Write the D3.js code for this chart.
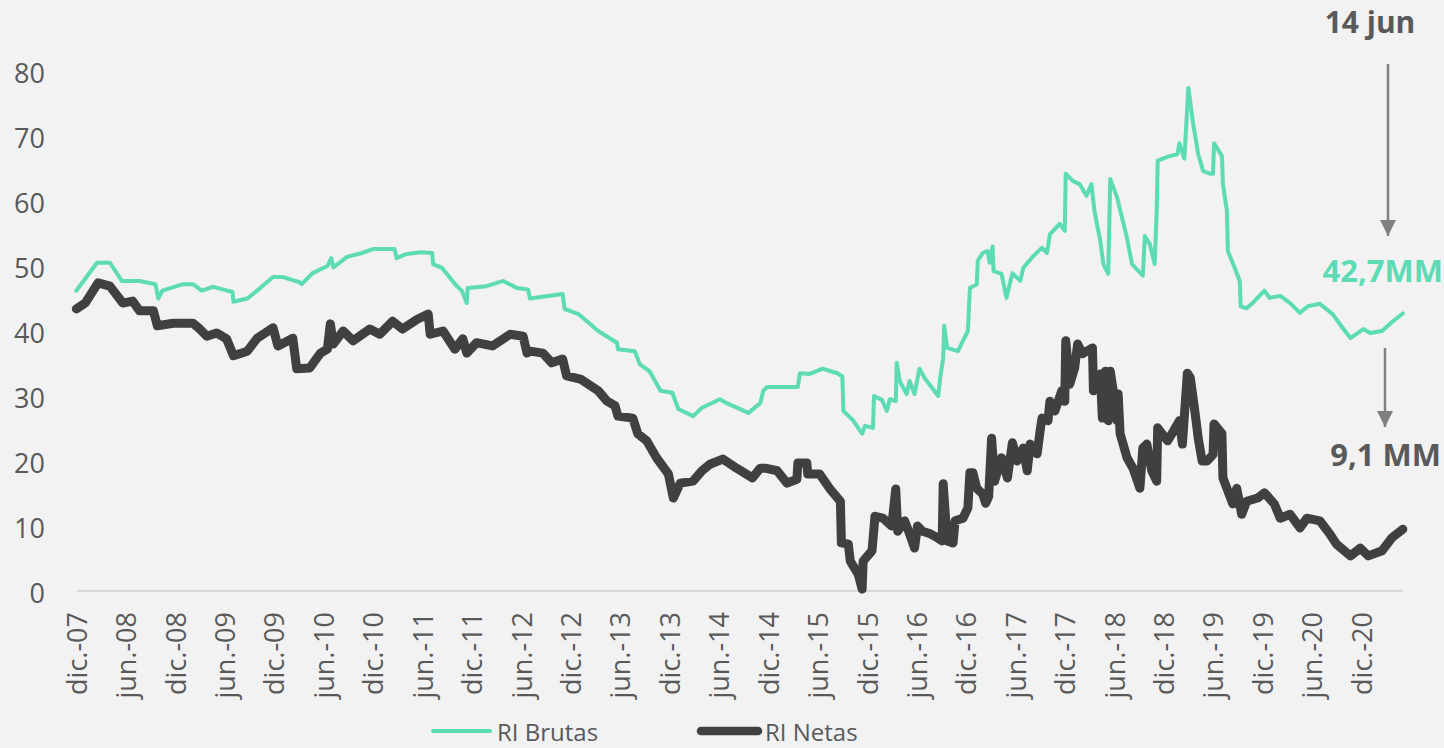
<!DOCTYPE html>
<html>
<head>
<meta charset="utf-8">
<script src="https://cdn.jsdelivr.net/npm/d3@7"></script>
<style>
  body { margin: 0; background: #f2f2f2; }
  svg { display: block; font-family: "Open Sans", sans-serif; }
</style>
</head>
<body>
<div id="chart"></div>
<script>
// x values are decimal years
var tickLabels = ["dic.-07", "jun.-08", "dic.-08", "jun.-09", "dic.-09", "jun.-10", "dic.-10",
    "jun.-11", "dic.-11", "jun.-12", "dic.-12", "jun.-13", "dic.-13", "jun.-14", "dic.-14",
    "jun.-15", "dic.-15", "jun.-16", "dic.-16", "jun.-17", "dic.-17", "jun.-18", "dic.-18",
    "jun.-19", "dic.-19", "jun.-20", "dic.-20"];
var yTicks = [0, 10, 20, 30, 40, 50, 60, 70, 80];

var brutasT = [2007.91, 2008.12, 2008.25, 2008.37, 2008.55, 2008.71, 2008.74, 2008.78, 2008.99, 2009.09,
    2009.18, 2009.29, 2009.39, 2009.49, 2009.50, 2009.64, 2009.77, 2009.90, 2010.00, 2010.17,
    2010.19, 2010.30, 2010.45, 2010.49, 2010.51, 2010.65, 2010.80, 2010.91, 2011.13, 2011.15,
    2011.24, 2011.39, 2011.51, 2011.52, 2011.61, 2011.76, 2011.81, 2011.86, 2011.87, 2012.06,
    2012.23, 2012.37, 2012.48, 2012.50, 2012.83, 2012.85, 2012.99, 2013.19, 2013.38, 2013.39,
    2013.56, 2013.61, 2013.71, 2013.82, 2013.94, 2014.00, 2014.15, 2014.24, 2014.42, 2014.49,
    2014.71, 2014.83, 2014.86, 2014.90, 2015.21, 2015.23, 2015.33, 2015.46, 2015.61, 2015.66,
    2015.67, 2015.77, 2015.86, 2015.89, 2015.97, 2015.98, 2016.06, 2016.11, 2016.14, 2016.20,
    2016.21, 2016.24, 2016.31, 2016.34, 2016.39, 2016.44, 2016.49, 2016.63, 2016.65, 2016.68,
    2016.69, 2016.72, 2016.83, 2016.88, 2016.93, 2016.95, 2017.02, 2017.03, 2017.08, 2017.13,
    2017.15, 2017.18, 2017.19, 2017.27, 2017.32, 2017.38, 2017.46, 2017.49, 2017.59, 2017.68,
    2017.73, 2017.76, 2017.86, 2017.91, 2017.92, 2017.99, 2018.06, 2018.13, 2018.18, 2018.21,
    2018.27, 2018.30, 2018.35, 2018.37, 2018.44, 2018.49, 2018.54, 2018.59, 2018.70, 2018.72,
    2018.77, 2018.82, 2018.84, 2018.85, 2018.97, 2019.05, 2019.07, 2019.12, 2019.16, 2019.21,
    2019.26, 2019.31, 2019.38, 2019.41, 2019.42, 2019.50, 2019.51, 2019.55, 2019.56, 2019.63,
    2019.68, 2019.69, 2019.75, 2019.81, 2019.93, 2019.98, 2020.09, 2020.19, 2020.29, 2020.37,
    2020.49, 2020.62, 2020.72, 2020.80, 2020.93, 2021.00, 2021.12, 2021.23, 2021.33];
var brutasV = [46.2, 50.5, 50.5, 47.7, 47.7, 47.2, 45.0, 46.2, 47.2, 47.2,
    46.2, 46.8, 46.4, 46.0, 44.5, 45.0, 46.6, 48.3, 48.3, 47.5,
    47.2, 48.9, 50.0, 51.2, 49.8, 51.4, 52.0, 52.6, 52.6, 51.2,
    51.8, 52.1, 52.0, 50.3, 49.7, 46.9, 46.2, 44.3, 46.6, 46.9,
    47.7, 46.6, 46.4, 45.0, 45.7, 43.4, 42.6, 40.0, 38.2, 37.2,
    36.9, 34.9, 33.8, 30.8, 30.5, 28.0, 26.9, 28.2, 29.5, 28.9,
    27.4, 28.9, 30.8, 31.4, 31.4, 33.5, 33.4, 34.2, 33.5, 33.0,
    27.7, 26.2, 24.2, 25.4, 25.1, 30.0, 29.4, 27.7, 29.5, 29.2,
    35.1, 32.3, 30.3, 32.3, 30.3, 34.2, 32.8, 30.0, 32.8, 35.8,
    40.8, 37.4, 36.9, 38.5, 40.0, 46.6, 47.2, 50.8, 52.0, 52.3,
    50.5, 53.0, 49.2, 48.8, 45.1, 48.9, 47.7, 49.7, 51.5, 52.8,
    52.0, 54.9, 56.5, 55.4, 64.2, 63.1, 62.6, 60.8, 62.6, 58.5,
    53.8, 50.3, 48.8, 63.4, 60.5, 57.4, 54.3, 50.3, 48.5, 54.6,
    53.4, 50.3, 58.5, 66.2, 66.9, 67.2, 68.9, 66.5, 77.4, 71.8,
    67.2, 64.6, 64.2, 64.2, 68.9, 66.9, 62.6, 58.5, 52.3, 49.7,
    47.7, 43.8, 43.5, 44.3, 46.2, 45.1, 45.4, 44.3, 42.8, 43.8,
    44.2, 42.6, 40.5, 38.9, 40.3, 39.7, 40.0, 41.5, 42.7];

var netasT = [2007.91, 2008.00, 2008.13, 2008.25, 2008.38, 2008.48, 2008.55, 2008.69, 2008.73, 2008.89,
    2009.09, 2009.16, 2009.23, 2009.33, 2009.43, 2009.50, 2009.64, 2009.74, 2009.90, 2009.95,
    2010.10, 2010.14, 2010.27, 2010.38, 2010.45, 2010.48, 2010.51, 2010.61, 2010.71, 2010.88,
    2010.98, 2011.11, 2011.21, 2011.36, 2011.47, 2011.49, 2011.62, 2011.74, 2011.82, 2011.86,
    2011.96, 2012.12, 2012.30, 2012.43, 2012.47, 2012.50, 2012.63, 2012.72, 2012.83, 2012.87,
    2013.01, 2013.19, 2013.28, 2013.36, 2013.39, 2013.54, 2013.59, 2013.68, 2013.78, 2013.90,
    2013.95, 2014.02, 2014.15, 2014.24, 2014.32, 2014.45, 2014.59, 2014.75, 2014.83, 2014.88,
    2015.00, 2015.10, 2015.20, 2015.21, 2015.30, 2015.31, 2015.43, 2015.53, 2015.64, 2015.65,
    2015.72, 2015.74, 2015.82, 2015.86, 2015.87, 2015.96, 2015.99, 2016.07, 2016.16, 2016.20,
    2016.22, 2016.29, 2016.34, 2016.39, 2016.42, 2016.47, 2016.55, 2016.62, 2016.67, 2016.68,
    2016.72, 2016.78, 2016.80, 2016.88, 2016.93, 2016.95, 2016.98, 2017.02, 2017.08, 2017.11,
    2017.14, 2017.17, 2017.20, 2017.27, 2017.33, 2017.38, 2017.43, 2017.49, 2017.53, 2017.56,
    2017.63, 2017.66, 2017.68, 2017.74, 2017.76, 2017.81, 2017.88, 2017.91, 2017.92, 2017.96,
    2018.01, 2018.04, 2018.09, 2018.19, 2018.20, 2018.27, 2018.29, 2018.32, 2018.35, 2018.37,
    2018.40, 2018.44, 2018.45, 2018.47, 2018.54, 2018.60, 2018.67, 2018.70, 2018.74, 2018.79,
    2018.84, 2018.85, 2018.95, 2019.01, 2019.07, 2019.10, 2019.15, 2019.18, 2019.23, 2019.26,
    2019.30, 2019.35, 2019.41, 2019.42, 2019.50, 2019.51, 2019.56, 2019.61, 2019.65, 2019.70,
    2019.75, 2019.86, 2019.93, 2020.03, 2020.09, 2020.19, 2020.29, 2020.36, 2020.49, 2020.59,
    2020.66, 2020.80, 2020.90, 2020.98, 2021.12, 2021.22, 2021.33];
var netasV = [43.4, 44.3, 47.4, 46.9, 44.3, 44.6, 43.1, 43.1, 40.8, 41.2,
    41.2, 40.3, 39.2, 39.7, 38.8, 36.2, 36.9, 38.9, 40.5, 37.7,
    38.9, 34.2, 34.3, 36.6, 37.2, 41.1, 38.0, 40.0, 38.5, 40.3,
    39.5, 41.5, 40.3, 41.8, 42.6, 39.5, 40.0, 37.2, 38.8, 36.6,
    38.2, 37.7, 39.5, 39.2, 36.6, 36.9, 36.6, 35.1, 35.7, 33.1,
    32.6, 30.8, 29.2, 28.5, 26.9, 26.6, 24.2, 23.1, 20.5, 18.0,
    14.3, 16.6, 16.9, 18.5, 19.5, 20.3, 18.9, 17.4, 18.9, 18.9,
    18.5, 16.6, 17.2, 19.7, 19.7, 18.0, 18.0, 15.8, 13.8, 7.4,
    7.2, 4.6, 2.6, 0.3, 4.6, 6.2, 11.5, 11.2, 10.0, 15.7,
    9.2, 10.8, 8.8, 6.6, 10.0, 9.2, 8.8, 8.2, 7.7, 16.5,
    7.7, 7.4, 10.8, 11.2, 12.8, 18.2, 18.2, 15.8, 14.9, 13.5,
    14.5, 23.5, 16.9, 20.5, 17.4, 22.8, 20.0, 22.0, 18.5, 22.6,
    21.1, 24.6, 26.6, 26.2, 29.2, 27.7, 30.8, 29.2, 38.5, 31.8,
    34.3, 38.0, 36.5, 37.4, 30.8, 33.4, 26.6, 33.8, 26.2, 33.8,
    30.8, 26.2, 30.3, 24.2, 20.5, 18.9, 15.8, 22.0, 22.6, 18.5,
    16.9, 25.1, 23.1, 24.6, 26.2, 22.6, 33.5, 32.8, 27.2, 23.5,
    20.0, 20.0, 21.0, 25.7, 24.2, 17.4, 15.4, 13.4, 15.8, 11.8,
    13.8, 14.3, 15.1, 13.4, 11.2, 11.8, 9.7, 11.2, 10.8, 8.8,
    7.2, 5.4, 6.6, 5.4, 6.2, 8.2, 9.5];

var width = 1444,
    height = 748;

var textColor = "#595959",
    brutasColor = "#5cdbb5",
    netasColor = "#404040",
    arrowColor = "#808080";

var firstTick = 2007.917;

var x = d3.scaleLinear()
    .domain([firstTick, firstTick + 13])
    .range([77, 1362]);

var y = d3.scaleLinear()
    .domain([0, 80])
    .range([591, 71]);

var svg = d3.select("#chart").append("svg")
    .attr("width", width)
    .attr("height", height);

svg.append("defs").append("marker")
    .attr("id", "arrowHead")
    .attr("viewBox", "0 0 10 10")
    .attr("refX", 10)
    .attr("refY", 5)
    .attr("markerUnits", "userSpaceOnUse")
    .attr("markerWidth", 17)
    .attr("markerHeight", 16)
    .attr("orient", "auto")
    .append("path")
    .attr("d", "M0,0L10,5L0,10Z")
    .attr("fill", arrowColor);

// bottom axis line
svg.append("line")
    .attr("x1", x(firstTick))
    .attr("x2", x(2021.33))
    .attr("y1", y(0))
    .attr("y2", y(0))
    .attr("stroke", "#d9d9d9")
    .attr("stroke-width", 2);

// y labels
svg.selectAll(".ytick")
    .data(yTicks)
    .enter().append("text")
    .attr("class", "ytick")
    .attr("x", 45)
    .attr("y", function(d) { return y(d); })
    .attr("dy", "0.45em")
    .attr("text-anchor", "end")
    .attr("fill", textColor)
    .style("font-size", "27px")
    .text(function(d) { return d; });

// x labels, rotated
svg.selectAll(".xtick")
    .data(tickLabels)
    .enter().append("text")
    .attr("class", "xtick")
    .attr("transform", function(d, i) {
        return "translate(" + x(firstTick + i * 0.5) + ",612) rotate(-90)";
    })
    .attr("dy", "0.36em")
    .attr("text-anchor", "end")
    .attr("fill", textColor)
    .style("font-size", "27px")
    .text(function(d) { return d; });

var line = d3.line()
    .x(function(d) { return x(d[0]); })
    .y(function(d) { return y(d[1]); });

svg.append("path")
    .datum(d3.zip(netasT, netasV))
    .attr("d", line)
    .attr("fill", "none")
    .attr("stroke", netasColor)
    .attr("stroke-width", 9)
    .attr("stroke-linejoin", "round")
    .attr("stroke-linecap", "round");

svg.append("path")
    .datum(d3.zip(brutasT, brutasV))
    .attr("d", line)
    .attr("fill", "none")
    .attr("stroke", brutasColor)
    .attr("stroke-width", 4)
    .attr("stroke-linejoin", "round")
    .attr("stroke-linecap", "round");

// annotations
svg.append("text")
    .attr("x", 1370)
    .attr("y", 33)
    .attr("text-anchor", "middle")
    .attr("fill", textColor)
    .style("font-size", "30px")
    .style("font-weight", "bold")
    .text("14 jun");

svg.append("line")
    .attr("x1", 1388).attr("x2", 1388)
    .attr("y1", 64).attr("y2", 236)
    .attr("stroke", arrowColor)
    .attr("stroke-width", 2.5)
    .attr("marker-end", "url(#arrowHead)");

svg.append("text")
    .attr("x", 1443)
    .attr("y", 282)
    .attr("text-anchor", "end")
    .attr("fill", brutasColor)
    .style("font-size", "31px")
    .style("font-weight", "bold")
    .text("42,7MM");

svg.append("line")
    .attr("x1", 1385).attr("x2", 1385)
    .attr("y1", 348).attr("y2", 427)
    .attr("stroke", arrowColor)
    .attr("stroke-width", 2.5)
    .attr("marker-end", "url(#arrowHead)");

svg.append("text")
    .attr("x", 1441)
    .attr("y", 466)
    .attr("text-anchor", "end")
    .attr("fill", textColor)
    .style("font-size", "31px")
    .style("font-weight", "bold")
    .text("9,1 MM");

// legend
var legend = [
    { name: "RI Brutas", color: brutasColor, width: 4, x: 433 },
    { name: "RI Netas", color: netasColor, width: 8.5, x: 701 }
];

var lg = svg.selectAll(".legend")
    .data(legend)
    .enter().append("g")
    .attr("class", "legend")
    .attr("transform", function(d) { return "translate(" + d.x + ",731)"; });

lg.append("line")
    .attr("x1", 0).attr("x2", 57)
    .attr("stroke", function(d) { return d.color; })
    .attr("stroke-width", function(d) { return d.width; })
    .attr("stroke-linecap", "round");

lg.append("text")
    .attr("x", 64)
    .attr("y", 10)
    .attr("fill", textColor)
    .style("font-size", "24px")
    .text(function(d) { return d.name; });
</script>
</body>
</html>
